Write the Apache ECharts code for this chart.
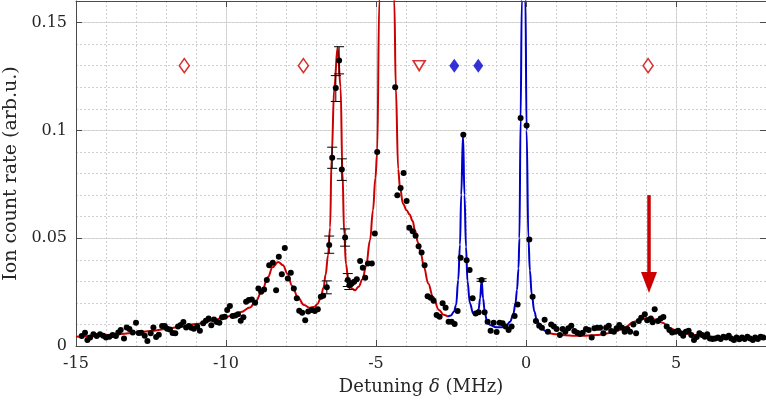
<!DOCTYPE html>
<html>
<head>
<meta charset="utf-8">
<script src="https://cdn.jsdelivr.net/npm/echarts@6/dist/echarts.min.js"></script>
<style>
html,body{margin:0;padding:0;background:#fff;}
#chart{width:766px;height:407px;}
</style>
</head>
<body>
<div id="chart"></div>
<script>
// ---- data ----
const xTickInterval = 5;
const yTickInterval = 0.05;

// measured data points [detuning MHz, ion count rate]
const dataPoints = [
[-14.81,0.0046],[-14.70,0.0062],[-14.62,0.0028],[-14.53,0.0039],[-14.42,0.0054],[-14.31,0.0046],[-14.20,0.0054],[-14.09,0.0048],[-14.00,0.0039],[-13.89,0.0043],[-13.78,0.0051],[-13.67,0.0046],[-13.59,0.0063],[-13.51,0.0074],[-13.40,0.0035],[-13.31,0.0086],[-13.22,0.0079],[-13.11,0.0063],[-13.00,0.0108],[-12.91,0.0060],[-12.82,0.0062],[-12.71,0.0048],[-12.62,0.0023],[-12.51,0.0059],[-12.42,0.0086],[-12.33,0.0042],[-12.24,0.0052],[-12.13,0.0093],[-12.04,0.0093],[-11.96,0.0080],[-11.87,0.0077],[-11.78,0.0060],[-11.69,0.0059],[-11.60,0.0090],[-11.51,0.0097],[-11.42,0.0111],[-11.33,0.0086],[-11.24,0.0093],[-11.16,0.0085],[-11.07,0.0080],[-10.96,0.0090],[-10.87,0.0071],[-10.76,0.0105],[-10.67,0.0117],[-10.58,0.0127],[-10.49,0.0096],[-10.40,0.0123],[-10.31,0.0111],[-10.22,0.0108],[-10.13,0.0133],[-10.04,0.0136],[-9.96,0.0167],[-9.87,0.0185],[-9.78,0.0139],[-9.69,0.0142],[-9.60,0.0147],[-9.51,0.0117],[-9.42,0.0133],[-9.33,0.0205],[-9.24,0.0213],
[-9.14,0.0216],[-9.03,0.0201],[-8.92,0.0267],[-8.83,0.0252],[-8.73,0.0262],[-8.64,0.0306],[-8.56,0.0375],[-8.44,0.0386],[-8.33,0.0259],[-8.24,0.0414],[-8.14,0.0333],[-8.04,0.0455],[-7.94,0.0313],[-7.84,0.0340],[-7.74,0.0267],[-7.64,0.0221],[-7.56,0.0164],[-7.46,0.0154],[-7.36,0.0120],[-7.26,0.0160],[-7.14,0.0167],[-7.04,0.0162],[-6.94,0.0170],[-6.84,0.0228],[-6.76,0.0233],[-6.64,0.0272],[-6.56,0.0468],[-6.46,0.0873],[-6.34,0.1196],[-6.23,0.1324],[-6.14,0.0818],[-6.03,0.0503],[-5.94,0.0306],[-5.89,0.0282],[-5.81,0.0290],[-5.73,0.0298],[-5.64,0.0309],[-5.53,0.0394],[-5.44,0.0363],[-5.36,0.0316],[-5.27,0.0383],[-5.14,0.0383],[-5.04,0.0522],[-4.96,0.0900],[-4.36,0.1200],[-4.29,0.0699],[-4.18,0.0733],[-4.08,0.0802],[-3.98,0.0673],[-3.89,0.0548],[-3.78,0.0532],[-3.68,0.0511],[-3.58,0.0463],[-3.48,0.0434],[-3.38,0.0375],[-3.28,0.0231],[-3.18,0.0224],[-3.08,0.0210],[-2.98,0.0144],[-2.88,0.0136],[-2.78,0.0198],[-2.68,0.0177],[-2.58,0.0113],[-2.48,0.0113],[-2.38,0.0102],[-2.28,0.0162],[-2.18,0.0409],[-2.09,0.0980],[-1.98,0.0398],[-1.88,0.0352],[-1.78,0.0221],[-1.68,0.0151],[-1.58,0.0156],[-1.48,0.0306],[-1.38,0.0156],[-1.28,0.0113],[-1.18,0.0071],[-1.08,0.0108],[-0.98,0.0065],[-0.88,0.0108],[-0.78,0.0105],[-0.68,0.0090],[-0.58,0.0074],[-0.48,0.0090],[-0.38,0.0139],[-0.28,0.0193],[-0.18,0.1057],[0.02,0.1023],[0.11,0.0494],[0.22,0.0228],[0.33,0.0116],[0.44,0.0094],[0.53,0.0085],[0.62,0.0122],[0.73,0.0066],[0.84,0.0100],[0.93,0.0090],[1.02,0.0079],[1.13,0.0051],[1.22,0.0079],[1.31,0.0066],[1.41,0.0082],[1.51,0.0094],[1.61,0.0069],[1.71,0.0062],[1.80,0.0056],[1.89,0.0062],[2.00,0.0079],[2.09,0.0074],[2.19,0.0039],[2.28,0.0082],[2.38,0.0085],[2.47,0.0085],[2.58,0.0059],[2.67,0.0085],[2.76,0.0094],[2.84,0.0069],[2.93,0.0066],[3.02,0.0082],[3.11,0.0097],[3.20,0.0085],[3.29,0.0066],[3.38,0.0079],[3.47,0.0066],[3.58,0.0100],[3.67,0.0059],[3.76,0.0116],[3.84,0.0131],[3.96,0.0147],[4.04,0.0120],[4.16,0.0128],[4.22,0.0110],[4.29,0.0170],[4.40,0.0116],[4.49,0.0128],[4.58,0.0134],[4.69,0.0091],[4.78,0.0074],[4.87,0.0063],[4.98,0.0066],[5.07,0.0071],[5.16,0.0059],[5.24,0.0048],[5.33,0.0066],[5.42,0.0071],[5.51,0.0051],[5.60,0.0028],[5.69,0.0042],[5.78,0.0059],[5.87,0.0051],[5.96,0.0043],[6.04,0.0054],[6.13,0.0035],[6.22,0.0032],[6.31,0.0035],[6.40,0.0039],[6.49,0.0032],[6.58,0.0043],[6.67,0.0039],[6.76,0.0048],[6.84,0.0035],[6.93,0.0028],[7.02,0.0039],[7.11,0.0031],[7.20,0.0039],[7.29,0.0032],[7.38,0.0043],[7.47,0.0035],[7.56,0.0028],[7.64,0.0039],[7.73,0.0032],[7.82,0.0043],[7.91,0.0039]
];

// error bars [x, y, half-length]
const errorBars = [
[-6.64,0.0272,0.0030],[-6.56,0.0470,0.0040],[-6.46,0.0873,0.0049],[-6.34,0.1194,0.0060],[-6.23,0.1325,0.0063],[-6.14,0.0818,0.0050],[-6.03,0.0503,0.0040],[-5.94,0.0306,0.0030],[-5.89,0.0282,0.0020],[-1.48,0.0306,0.0006]
];

// red fit, left part
const redFitLeft = [
[-15,0.0043],[-14.5,0.0046],[-14,0.0051],[-13.5,0.0056],[-13,0.0063],[-12.5,0.0070],[-12,0.0079],[-11.5,0.0090],[-11,0.0102],[-10.5,0.0117],[-10,0.0134],[-9.75,0.0145],[-9.5,0.0158],[-9.2,0.0179],[-9.0,0.0210],[-8.8,0.0255],[-8.6,0.0320],[-8.45,0.0365],[-8.26,0.0390],[-8.1,0.0375],[-7.95,0.0335],[-7.8,0.0280],[-7.6,0.0225],[-7.4,0.0190],[-7.2,0.0177],[-7.05,0.0182],[-6.95,0.0195],[-6.85,0.0220],[-6.75,0.0270],[-6.68,0.0330],[-6.6,0.0420],[-6.53,0.0550],[-6.48,0.0876],[-6.39,0.1200],[-6.28,0.1386],[-6.18,0.1200],[-6.12,0.0815],[-6.06,0.0520],[-6.0,0.0380],[-5.92,0.0300],[-5.82,0.0268],[-5.7,0.0258],[-5.58,0.0275],[-5.45,0.0310],[-5.33,0.0370],[-5.2,0.0490],[-5.1,0.0630],[-5.02,0.0780],[-4.96,0.0900],[-4.89,0.1600],[-4.8,0.2200],[-4.64,0.2600],[-4.48,0.2200],[-4.39,0.1600],[-4.34,0.1200],[-4.26,0.0820],[-4.2,0.0735],[-4.1,0.0660],[-3.98,0.0630],[-3.88,0.0610],[-3.78,0.0580],[-3.7,0.0537],[-3.6,0.0480],[-3.5,0.0425],[-3.4,0.0365],[-3.26,0.0290],[-3.1,0.0228],[-2.9,0.0167],[-2.75,0.0145],[-2.6,0.0136]
];

// blue fit
const blueFit = [
[-2.6,0.0136],[-2.5,0.0142],[-2.4,0.0160],[-2.33,0.0190],[-2.26,0.0306],[-2.2,0.0470],[-2.16,0.0700],[-2.1,0.0980],[-2.05,0.0700],[-2.0,0.0460],[-1.95,0.0300],[-1.87,0.0198],[-1.76,0.0151],[-1.67,0.0144],[-1.58,0.0170],[-1.53,0.0220],[-1.48,0.0306],[-1.43,0.0220],[-1.38,0.0165],[-1.31,0.0120],[-1.2,0.0097],[-1.0,0.0087],[-0.8,0.0087],[-0.65,0.0095],[-0.53,0.0113],[-0.42,0.0150],[-0.35,0.0200],[-0.3,0.0260],[-0.25,0.0360],[-0.22,0.0500],[-0.18,0.1050],[-0.14,0.1600],[-0.08,0.2600],[-0.02,0.1600],[0.02,0.1000],[0.08,0.0500],[0.13,0.0350],[0.19,0.0240],[0.28,0.0160],[0.36,0.0120],[0.5,0.0085],[0.65,0.0070],[0.8,0.0059]
];

// red fit, right part
const redFitRight = [
[0.8,0.0059],[1.0,0.0054],[1.3,0.0050],[1.6,0.0048],[2.0,0.0048],[2.4,0.0051],[2.7,0.0058],[3.0,0.0068],[3.3,0.0087],[3.6,0.0112],[3.85,0.0126],[4.1,0.0129],[4.35,0.0122],[4.55,0.0108],[4.8,0.0084],[5.0,0.0071],[5.25,0.0060],[5.5,0.0052],[6.0,0.0045],[6.5,0.0040],[7.0,0.0038],[7.5,0.0036],[8.0,0.0035]
];

// line position markers at the top
const markerLevel = 0.13;
const redOpenDiamonds = [-11.39, -7.42, 4.07];
const redOpenTriangles = [-3.56];
const blueFilledDiamonds = [-2.39, -1.59];

// arrow [x, yStart, yTip]
const arrowData = [[4.1, 0.070, 0.0246]];

// ---- chart ----
const RED = '#cc0000', BLUE = '#0000cc', AX = '#4a4a4a', TXT = '#262626';
const FONT = 'DejaVu Serif';

const chart = echarts.init(document.getElementById('chart'));
const baseX = {type:'value', min:-15, max:8};
const baseY = {type:'value', min:0, max:0.16};

chart.setOption({
  animation:false,
  backgroundColor:'#fff',
  grid:{left:76, right:0, top:1, bottom:61, containLabel:false, outerBoundsMode:'none'},
  xAxis:[
    Object.assign({}, baseX, {
      position:'bottom', interval:xTickInterval,
      axisLine:{show:true, onZero:false, lineStyle:{color:AX, width:1}},
      axisTick:{show:true, inside:true, length:6, lineStyle:{color:AX}},
      axisLabel:{show:true, showMaxLabel:false, margin:10, color:TXT, fontFamily:FONT, fontSize:16},
      splitLine:{show:true, lineStyle:{color:'#d9d9d9', width:1}},
      name:'Detuning {i|δ} (MHz)', nameLocation:'middle', nameGap:32,
      nameTextStyle:{color:TXT, fontFamily:FONT, fontSize:18,
        rich:{i:{fontStyle:'italic', fontFamily:FONT, fontSize:18, color:TXT}}}
    }),
    Object.assign({}, baseX, {
      position:'top', interval:xTickInterval,
      axisLine:{show:true, onZero:false, lineStyle:{color:AX, width:1}},
      axisTick:{show:true, inside:true, length:6, lineStyle:{color:AX}},
      axisLabel:{show:false}, splitLine:{show:false}
    }),
    Object.assign({}, baseX, {
      position:'bottom', interval:1,
      axisLine:{show:false}, axisTick:{show:false}, axisLabel:{show:false},
      splitLine:{show:true, lineStyle:{color:'#cfcfcf', width:1, type:[2,2]}}
    })
  ],
  yAxis:[
    Object.assign({}, baseY, {
      position:'left', interval:yTickInterval,
      axisLine:{show:true, onZero:false, lineStyle:{color:AX, width:1}},
      axisTick:{show:true, inside:true, length:6, lineStyle:{color:AX}},
      axisLabel:{show:true, showMaxLabel:false, margin:9, color:TXT, fontFamily:FONT, fontSize:16},
      splitLine:{show:true, lineStyle:{color:'#d9d9d9', width:1}},
      name:'Ion count rate (arb.u.)', nameLocation:'middle', nameGap:53,
      nameTextStyle:{color:TXT, fontFamily:FONT, fontSize:19}
    }),
    Object.assign({}, baseY, {
      position:'right', interval:yTickInterval,
      axisLine:{show:true, onZero:false, lineStyle:{color:AX, width:1}},
      axisTick:{show:true, inside:true, length:6, lineStyle:{color:AX}},
      axisLabel:{show:false}, splitLine:{show:false}
    }),
    Object.assign({}, baseY, {
      position:'left', interval:0.01,
      axisLine:{show:false}, axisTick:{show:false}, axisLabel:{show:false},
      splitLine:{show:true, lineStyle:{color:'#cfcfcf', width:1, type:[2,2]}}
    })
  ],
  series:[
    {type:'line', data:redFitLeft, showSymbol:false, symbol:'none', smooth:0.4, smoothMonotone:'x',
     lineStyle:{color:RED, width:2}, clip:true, z:3},
    {type:'line', data:blueFit, showSymbol:false, symbol:'none', smooth:0.4, smoothMonotone:'x',
     lineStyle:{color:BLUE, width:2}, clip:true, z:3},
    {type:'line', data:redFitRight, showSymbol:false, symbol:'none', smooth:0.4, smoothMonotone:'x',
     lineStyle:{color:RED, width:2}, clip:true, z:3},
    {type:'scatter', data:dataPoints, symbol:'circle', symbolSize:6,
     itemStyle:{color:'#000', opacity:1}, z:4},
    {type:'custom', data:errorBars, z:5, clip:true,
     renderItem:function(params, api){
       const x = api.value(0), y = api.value(1), e = api.value(2);
       const t = api.coord([x, y + e]), b = api.coord([x, y - e]);
       const hw = 5;
       const st = {stroke:'#000', lineWidth:1};
       return {type:'group', children:[
         {type:'line', shape:{x1:t[0], y1:t[1], x2:b[0], y2:b[1]}, style:st},
         {type:'line', shape:{x1:t[0]-hw, y1:t[1], x2:t[0]+hw, y2:t[1]}, style:st},
         {type:'line', shape:{x1:b[0]-hw, y1:b[1], x2:b[0]+hw, y2:b[1]}, style:st}
       ]};
     }},
    {type:'scatter', data:redOpenDiamonds.map(v=>[v, markerLevel]), symbol:'diamond', symbolSize:[10,14],
     itemStyle:{color:'#fff', borderColor:RED, borderWidth:1.6}, z:6},
    {type:'scatter', data:redOpenTriangles.map(v=>[v, markerLevel]), symbol:'triangle', symbolRotate:180, symbolSize:[12,10],
     itemStyle:{color:'#fff', borderColor:RED, borderWidth:1.6}, z:6},
    {type:'scatter', data:blueFilledDiamonds.map(v=>[v, markerLevel]), symbol:'diamond', symbolSize:[10,14],
     itemStyle:{color:BLUE}, z:6},
    {type:'custom', data:arrowData, z:7,
     renderItem:function(params, api){
       const x = api.value(0);
       const s = api.coord([x, api.value(1)]), tip = api.coord([x, api.value(2)]);
       const hl = 21, hw = 8;
       return {type:'group', children:[
         {type:'line', shape:{x1:s[0], y1:s[1], x2:tip[0], y2:tip[1]-hl+2}, style:{stroke:RED, lineWidth:3.5}},
         {type:'polygon', shape:{points:[[tip[0], tip[1]], [tip[0]-hw, tip[1]-hl], [tip[0]+hw, tip[1]-hl]]}, style:{fill:RED}}
       ]};
     }}
  ]
});
</script>
</body>
</html>
